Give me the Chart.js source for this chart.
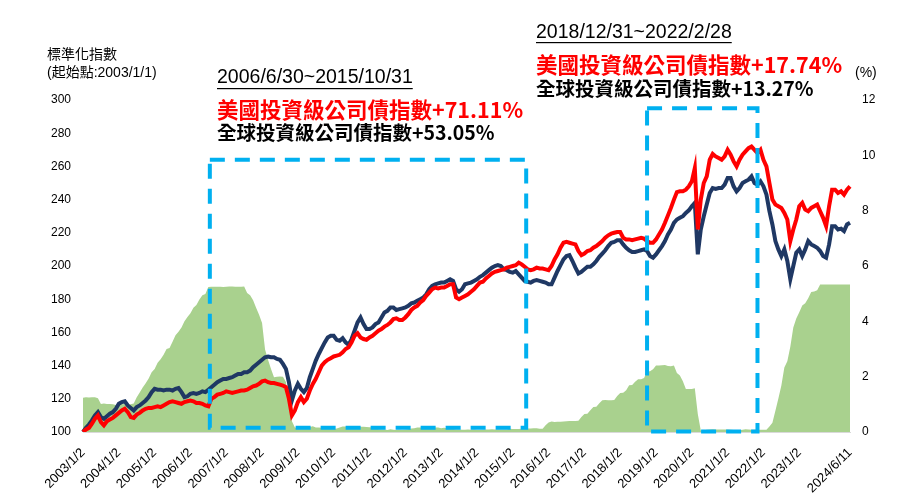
<!DOCTYPE html>
<html>
<head>
<meta charset="utf-8">
<script src="https://cdn.jsdelivr.net/npm/chart.js@4"></script>
<style>
  body { margin: 0; background: #fff; }
  canvas { display: block; }
</style>
</head>
<body>
<canvas id="chart" width="912" height="499"></canvas>
<script>
// monthly points, 2003/1 .. 2024/6
const months = [];
for (let y = 2003; y <= 2024; y++) {
  for (let m = 1; m <= 12; m++) {
    if (y === 2024 && m > 6) break;
    months.push(y + '/' + m);
  }
}

// tick labels shown under the axis
const xTickLabels = ['2003/1/2', '2004/1/2', '2005/1/2', '2006/1/2', '2007/1/2', '2008/1/2',
  '2009/1/2', '2010/1/2', '2011/1/2', '2012/1/2', '2013/1/2', '2014/1/2', '2015/1/2',
  '2016/1/2', '2017/1/2', '2018/1/2', '2019/1/2', '2020/1/2', '2021/1/2', '2022/1/2',
  '2023/1/2', '2024/6/11'];
const xTickMonths = ['2003/1', '2004/1', '2005/1', '2006/1', '2007/1', '2008/1', '2009/1',
  '2010/1', '2011/1', '2012/1', '2013/1', '2014/1', '2015/1', '2016/1', '2017/1', '2018/1',
  '2019/1', '2020/1', '2021/1', '2022/1', '2023/1', '2024/6'];

// 美國投資級公司債指數 (normalized, 2003/1/1 = 100)
const usIG = [
  100, 101.5, 102.5, 105, 108, 110, 106, 104, 106.5, 107.5, 108.5, 110,
  111.5, 113, 114, 112, 109, 108.5, 110.5, 111.5, 113, 114, 114.5, 114.5,
  115, 115.5, 115, 116, 117, 118, 118.5, 118, 117.5, 117, 118, 118.5,
  119, 118.5, 117.5, 117.5, 117, 116, 115.5, 120, 121, 122.5, 123, 123.5,
  124.5, 124, 123.5, 124, 124.5, 125, 125, 125.5, 126.5, 127.5, 128, 129,
  130.5, 131, 130, 129.5, 129.5, 129, 128.5, 128, 127, 120, 110, 113,
  118, 121, 118, 120, 125, 129, 132, 136, 140, 142, 143.5, 144.5,
  145.5, 146, 146.5, 148, 150, 151, 154, 158, 159.5, 157, 156, 155.5,
  157, 158, 159.5, 161, 162, 163.5, 164.5, 166, 168, 168.5, 167.5, 167.5,
  169, 171, 173.5, 175, 176, 178, 179.5, 182, 184, 186, 187, 186.5,
  187, 187, 188, 189, 189, 181, 180, 181, 182, 183, 184.5, 186,
  188, 190, 190.5, 192.5, 194, 195.5, 196.5, 197, 197.5, 198, 199, 199.5,
  200, 200.5, 202, 201, 199.5, 198, 197.5, 198, 199, 198.5, 198.5, 198,
  197.5, 200, 204, 207, 211, 214, 214.5, 214, 213.5, 213, 209, 206.5,
  207.5, 209, 209.5, 211, 212, 213.5, 215, 217, 218.5, 219.5, 220, 220.5,
  220.5, 217, 216, 216, 215.5, 216, 216.5, 217, 216.5, 215, 214, 214,
  216, 219, 222, 226, 230.5, 235, 240, 244.5, 245, 245, 246, 248,
  251, 259, 222, 240, 250, 254, 264, 267.5, 266, 265, 264, 266,
  270, 267, 263, 260, 264, 267, 269, 271, 272, 270, 268, 270,
  264, 260, 250, 240, 237, 236, 235, 232, 228, 215, 222, 228,
  236, 238, 234, 233, 235, 236, 237, 233, 229, 224, 236, 246,
  246, 244, 245, 243, 246, 248
];

// 全球投資級公司債指數
const globalIG = [
  100, 102.5, 104.5, 107, 110, 112, 109, 108, 109.5, 111, 112, 114,
  117, 118, 118.5, 116, 114.5, 113, 115, 116, 117.5, 119, 121, 124,
  126, 125.5, 125.5, 125, 125.5, 125.5, 125, 126, 126.5, 124, 121, 121.5,
  123, 123.5, 123, 123.5, 124.5, 124, 125.5, 127, 128.5, 130, 131, 132,
  132, 132.5, 133, 134, 135, 135, 136, 136, 137, 139, 140.5, 142,
  143.5, 145, 145.5, 145, 145, 144, 143.5, 141, 138, 130, 119, 125,
  129, 126, 124, 126.5, 133, 138, 143, 147, 150.5, 154, 157, 158,
  158, 155.5, 155, 156.5, 154, 152.5, 156, 161, 166, 169, 165, 162,
  162, 163, 165, 166, 169, 172, 173, 175, 175, 173.5, 174, 174.5,
  175, 176, 177.5, 178, 179, 180, 181, 183, 186, 188, 189, 189.5,
  190, 190, 191, 192, 191, 186, 184.5, 186, 189, 189.5, 190, 191,
  192, 193.5, 194.5, 196, 197.5, 199, 200, 200.5, 200, 198, 197.5, 196.5,
  196, 197, 195, 193, 191, 190.5, 190, 191, 191.5, 191, 190.5, 190,
  189, 189, 193, 197, 200.5, 204, 206, 206.5, 203, 199, 195.5, 196.5,
  198, 199.5, 199.5, 201, 203, 205.5, 207.5, 209.5, 212, 214, 214.5, 215.5,
  215.5, 213, 211, 209.5, 208.5, 208.5, 209, 209.5, 210, 209, 206, 205,
  207, 209.5, 212, 215, 219, 222, 226, 228, 229, 230, 232, 233.5,
  236, 238, 207, 222, 230, 237, 244, 247, 246.5, 247, 247, 249,
  253, 253, 248, 245, 247, 250, 251, 252, 254, 250, 249, 251,
  248, 243, 233, 225, 215, 210, 206, 210, 203, 192, 200, 208,
  210, 206, 210, 215, 213, 212, 211, 209, 206, 205, 213, 224,
  224, 222, 222.5, 221, 225, 226
];

// policy rate, right axis (%)
const rate = [
  1.24, 1.26, 1.25, 1.26, 1.26, 1.22, 1.01, 1.03, 1.01, 1.01, 1.00, 0.98,
  1.00, 1.01, 1.00, 1.00, 1.00, 1.03, 1.26, 1.43, 1.61, 1.76, 1.93, 2.16,
  2.28, 2.50, 2.63, 2.79, 3.00, 3.04, 3.26, 3.50, 3.62, 3.78, 4.00, 4.16,
  4.29, 4.49, 4.59, 4.79, 4.94, 4.99, 5.24, 5.25, 5.25, 5.25, 5.25, 5.24,
  5.25, 5.26, 5.26, 5.25, 5.25, 5.25, 5.26, 5.02, 4.94, 4.76, 4.49, 4.24,
  3.94, 2.98, 2.61, 2.28, 1.98, 2.00, 2.01, 2.00, 1.81, 0.97, 0.39, 0.16,
  0.15, 0.22, 0.18, 0.15, 0.18, 0.21, 0.16, 0.16, 0.15, 0.12, 0.12, 0.12,
  0.11, 0.13, 0.16, 0.20, 0.20, 0.18, 0.18, 0.19, 0.19, 0.19, 0.19, 0.18,
  0.17, 0.16, 0.14, 0.10, 0.09, 0.09, 0.07, 0.10, 0.08, 0.07, 0.08, 0.07,
  0.08, 0.10, 0.13, 0.14, 0.16, 0.16, 0.16, 0.13, 0.14, 0.16, 0.16, 0.16,
  0.14, 0.15, 0.14, 0.15, 0.11, 0.09, 0.09, 0.08, 0.08, 0.09, 0.08, 0.09,
  0.07, 0.07, 0.08, 0.09, 0.09, 0.10, 0.09, 0.09, 0.09, 0.09, 0.09, 0.12,
  0.11, 0.11, 0.11, 0.12, 0.12, 0.13, 0.13, 0.14, 0.14, 0.12, 0.12, 0.24,
  0.34, 0.38, 0.36, 0.37, 0.37, 0.38, 0.39, 0.40, 0.40, 0.40, 0.41, 0.54,
  0.65, 0.66, 0.79, 0.90, 0.91, 1.04, 1.15, 1.16, 1.15, 1.15, 1.16, 1.30,
  1.41, 1.42, 1.51, 1.69, 1.70, 1.82, 1.91, 1.91, 1.95, 2.19, 2.20, 2.27,
  2.40, 2.40, 2.41, 2.42, 2.39, 2.38, 2.40, 2.13, 2.04, 1.83, 1.55, 1.55,
  1.55, 1.58, 0.65, 0.05, 0.05, 0.08, 0.09, 0.10, 0.09, 0.09, 0.09, 0.09,
  0.09, 0.08, 0.07, 0.07, 0.06, 0.08, 0.10, 0.09, 0.08, 0.08, 0.08, 0.08,
  0.08, 0.08, 0.20, 0.33, 0.77, 1.21, 1.68, 2.33, 2.56, 3.08, 3.78, 4.10,
  4.33, 4.57, 4.65, 4.83, 5.06, 5.08, 5.12, 5.33, 5.33, 5.33, 5.33, 5.33,
  5.33, 5.33, 5.33, 5.33, 5.33, 5.33
];

// dashed boxes: x in month index, y in index value
const boxes = [
  { from: 42.5, to: 148.5, top: 264, bottom: 102.5 },
  { from: 189, to: 226, top: 295, bottom: 100.3 }
];

const LATIN = "'Liberation Sans', Arial, 'Noto Sans CJK TC', sans-serif";
const CJK = "'Noto Sans CJK TC', 'Noto Sans CJK SC', sans-serif";
const tickFont = { family: LATIN, size: 12 };

const overlay = {
  id: 'overlay',
  afterDatasetsDraw(chart) {
    const { ctx, scales: { x, y } } = chart;
    ctx.save();
    ctx.strokeStyle = '#00B0F0';
    ctx.lineWidth = 4;
    ctx.setLineDash([15, 10]);
    boxes.forEach(b => {
      const x0 = x.getPixelForValue(b.from), x1 = x.getPixelForValue(b.to);
      const y0 = y.getPixelForValue(b.top), y1 = y.getPixelForValue(b.bottom);
      ctx.strokeRect(x0, y0, x1 - x0, y1 - y0);
    });
    ctx.restore();
  },
  afterDraw(chart) {
    const ctx = chart.ctx;
    ctx.save();
    ctx.textAlign = 'left';
    ctx.textBaseline = 'middle';
    ctx.fillStyle = '#000';
    ctx.font = '14px ' + LATIN;
    ctx.fillText('標準化指數', 47, 55);
    ctx.fillText('(起始點:2003/1/1)', 47, 73);
    ctx.fillText('(%)', 855, 73);

    const notes = [
      { x: 217, yDate: 83, yUnder: 88, date: '2006/6/30~2015/10/31', yRed: 110, yBlack: 133,
        red: '美國投資級公司債指數+71.11%', black: '全球投資級公司債指數+53.05%' },
      { x: 536, yDate: 38, yUnder: 42, date: '2018/12/31~2022/2/28', yRed: 65, yBlack: 89,
        red: '美國投資級公司債指數+17.74%', black: '全球投資級公司債指數+13.27%' }
    ];
    notes.forEach(n => {
      ctx.textBaseline = 'alphabetic';
      ctx.fillStyle = '#000';
      ctx.font = '19.5px ' + LATIN;
      ctx.fillText(n.date, n.x, n.yDate);
      const w = ctx.measureText(n.date).width;
      ctx.fillRect(n.x, n.yUnder, w, 1.2);
      ctx.textBaseline = 'middle';
      ctx.font = 'bold 21.5px ' + CJK;
      ctx.fillStyle = '#FF0000';
      ctx.fillText(n.red, n.x, n.yRed);
      ctx.font = 'bold 19.5px ' + CJK;
      ctx.fillStyle = '#000';
      ctx.fillText(n.black, n.x, n.yBlack);
    });
    ctx.restore();
  }
};

new Chart(document.getElementById('chart'), {
  type: 'line',
  data: {
    labels: months,
    datasets: [
      {
        label: '美國投資級公司債指數',
        data: usIG,
        borderColor: '#FF0000',
        borderWidth: 4,
        pointRadius: 0,
        tension: 0,
        yAxisID: 'y',
        order: 1
      },
      {
        label: '全球投資級公司債指數',
        data: globalIG,
        borderColor: '#1F3864',
        borderWidth: 4,
        pointRadius: 0,
        tension: 0,
        yAxisID: 'y',
        order: 2
      },
      {
        label: '利率(%)',
        data: rate,
        borderWidth: 0,
        borderColor: '#A9D18E',
        backgroundColor: '#A9D18E',
        pointRadius: 0,
        tension: 0,
        fill: 'origin',
        yAxisID: 'y1',
        order: 3
      }
    ]
  },
  options: {
    responsive: false,
    animation: false,
    devicePixelRatio: 1,
    layout: { padding: { top: 100, left: 0, right: 0, bottom: 0 } },
    plugins: {
      legend: { display: false },
      tooltip: { enabled: false }
    },
    scales: {
      x: {
        grid: { display: false, drawTicks: false },
        border: { display: true, color: '#D9D9D9', width: 1 },
        afterBuildTicks: s => {
          s.ticks = xTickMonths.map(m => ({ value: months.indexOf(m) }));
        },
        afterFit: s => { s.height = 67; },
        ticks: {
          autoSkip: false,
          minRotation: 45,
          maxRotation: 45,
          padding: 13,
          color: '#000',
          font: { family: LATIN, size: 13 },
          callback: (v, i) => xTickLabels[i]
        }
      },
      y: {
        position: 'left',
        min: 100,
        max: 300,
        grid: { display: false, drawTicks: false },
        border: { display: false },
        afterFit: s => { s.width = 83; },
        ticks: { stepSize: 20, padding: 12, color: '#000', font: tickFont }
      },
      y1: {
        position: 'right',
        min: 0,
        max: 12,
        grid: { display: false, drawTicks: false },
        border: { display: false },
        afterFit: s => { s.width = 62; },
        ticks: { stepSize: 2, padding: 12, color: '#000', font: tickFont }
      }
    }
  },
  plugins: [overlay]
});
</script>
</body>
</html>
